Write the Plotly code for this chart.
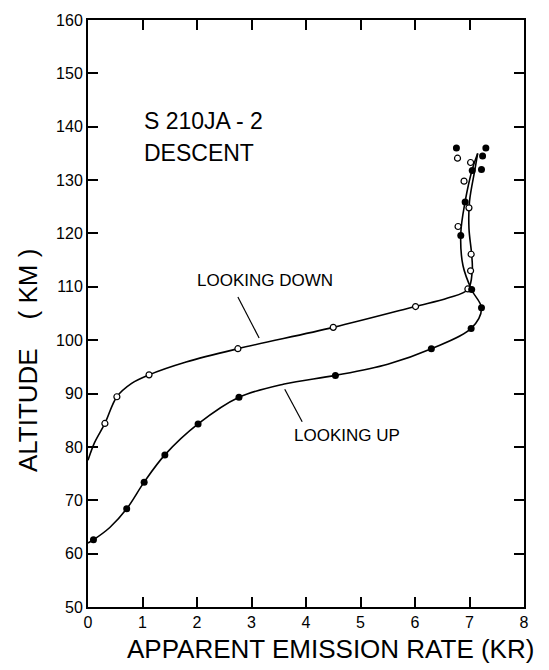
import plotly.graph_objects as go

# ---- data ----
# fitted curve nodes
down_curve_x = [0.0, 0.12, 0.31, 0.53, 0.8, 1.12, 1.8, 2.75, 4.5, 6.0, 6.6, 6.97, 7.05, 7.04, 6.99, 7.0, 7.1, 7.15]
down_curve_y = [77.5, 80.8, 84.4, 89.4, 91.9, 93.5, 95.9, 98.4, 102.4, 106.3, 107.9, 109.5, 113.0, 116.0, 121.0, 126.0, 132.0, 135.0]
up_curve_x = [0.0, 0.1, 0.4, 0.71, 1.03, 1.41, 2.02, 2.77, 3.6, 4.54, 5.5, 6.3, 7.03, 7.22, 7.04, 6.88, 6.84, 6.92, 7.05, 7.15]
up_curve_y = [62.0, 62.6, 64.9, 68.4, 73.4, 78.5, 84.3, 89.3, 91.8, 93.4, 95.5, 98.4, 102.2, 106.0, 109.4, 114.0, 120.0, 126.0, 132.0, 135.0]

# measured points
down_pts_x = [0.31, 0.53, 1.12, 2.75, 4.5, 6.01, 6.97, 7.02, 7.03, 6.79, 6.99, 6.9, 7.02, 6.78]
down_pts_y = [84.4, 89.4, 93.5, 98.4, 102.4, 106.3, 109.6, 113.0, 116.1, 121.3, 124.8, 129.8, 133.3, 134.1]
up_pts_x = [0.1, 0.71, 1.03, 1.41, 2.02, 2.77, 4.54, 6.3, 7.03, 7.22, 7.04, 6.84, 6.92, 7.05, 7.22, 7.24, 6.76, 7.30]
up_pts_y = [62.6, 68.4, 73.4, 78.5, 84.3, 89.3, 93.4, 98.4, 102.2, 106.1, 109.5, 119.6, 125.9, 131.8, 132.0, 134.5, 136.0, 136.0]

x_ticks = [0, 1, 2, 3, 4, 5, 6, 7, 8]
y_ticks = [50, 60, 70, 80, 90, 100, 110, 120, 130, 140, 150, 160]

FONT = "Liberation Sans, Arial, sans-serif"

fig = go.Figure()
fig.add_trace(go.Scatter(x=down_curve_x, y=down_curve_y, mode="lines",
                         line=dict(color="black", width=1.6, shape="spline", smoothing=1.0),
                         hoverinfo="skip", showlegend=False))
fig.add_trace(go.Scatter(x=up_curve_x, y=up_curve_y, mode="lines",
                         line=dict(color="black", width=1.6, shape="spline", smoothing=1.0),
                         hoverinfo="skip", showlegend=False))
fig.add_trace(go.Scatter(x=down_pts_x, y=down_pts_y, mode="markers",
                         marker=dict(symbol="circle", size=6, color="white",
                                     line=dict(color="black", width=1.2)),
                         showlegend=False))
fig.add_trace(go.Scatter(x=up_pts_x, y=up_pts_y, mode="markers",
                         marker=dict(symbol="circle", size=7, color="black",
                                     line=dict(color="black", width=0)),
                         showlegend=False))

# leader lines
fig.add_shape(type="line", x0=2.75, y0=108.1, x1=3.14, y1=100.4, xref="x", yref="y",
              line=dict(color="black", width=1.2))
fig.add_shape(type="line", x0=3.61, y0=90.8, x1=3.93, y1=84.7, xref="x", yref="y",
              line=dict(color="black", width=1.2))

# labels
fig.add_annotation(x=1.96, y=111.25, xref="x", yref="y", text="LOOKING DOWN", showarrow=False,
                   xanchor="left", yanchor="middle", font=dict(family=FONT, size=17, color="black"))
fig.add_annotation(x=3.74, y=82.1, xref="x", yref="y", text="LOOKING UP", showarrow=False,
                   xanchor="left", yanchor="middle", font=dict(family=FONT, size=17, color="black"))
fig.add_annotation(x=0.99, y=141.0, xref="x", yref="y", text="S 210JA - 2", showarrow=False,
                   xanchor="left", yanchor="middle", font=dict(family=FONT, size=23, color="black"))
fig.add_annotation(x=0.99, y=135.1, xref="x", yref="y", text="DESCENT", showarrow=False,
                   xanchor="left", yanchor="middle", font=dict(family=FONT, size=23, color="black"))

# axis titles
fig.add_annotation(x=0.557, y=-0.0707, xref="paper", yref="paper",
                   text="APPARENT EMISSION RATE (KR)", showarrow=False,
                   xanchor="center", yanchor="middle", font=dict(family=FONT, size=26, color="black"))
fig.add_annotation(x=-0.1376, y=0.419, xref="paper", yref="paper",
                   text="ALTITUDE\u00a0\u00a0\u00a0\u00a0( KM )", showarrow=False, textangle=-90,
                   xanchor="center", yanchor="middle", font=dict(family=FONT, size=26, color="black"))

axis_common = dict(showgrid=False, zeroline=False, showline=True, linecolor="black", linewidth=2,
                   mirror="allticks", ticks="inside", ticklen=10, tickwidth=1.5, tickcolor="black",
                   tickfont=dict(family=FONT, size=16, color="black"))
fig.update_xaxes(range=[0, 8], tickvals=x_ticks, ticktext=[str(v) for v in x_ticks], **axis_common)
fig.update_yaxes(range=[50, 160], tickvals=y_ticks, ticktext=[str(v) for v in y_ticks], **axis_common)

fig.update_layout(width=549, height=670, margin=dict(l=88, r=25, t=13, b=63),
                  plot_bgcolor="white", paper_bgcolor="white", showlegend=False)

fig.write_html("out.html")
